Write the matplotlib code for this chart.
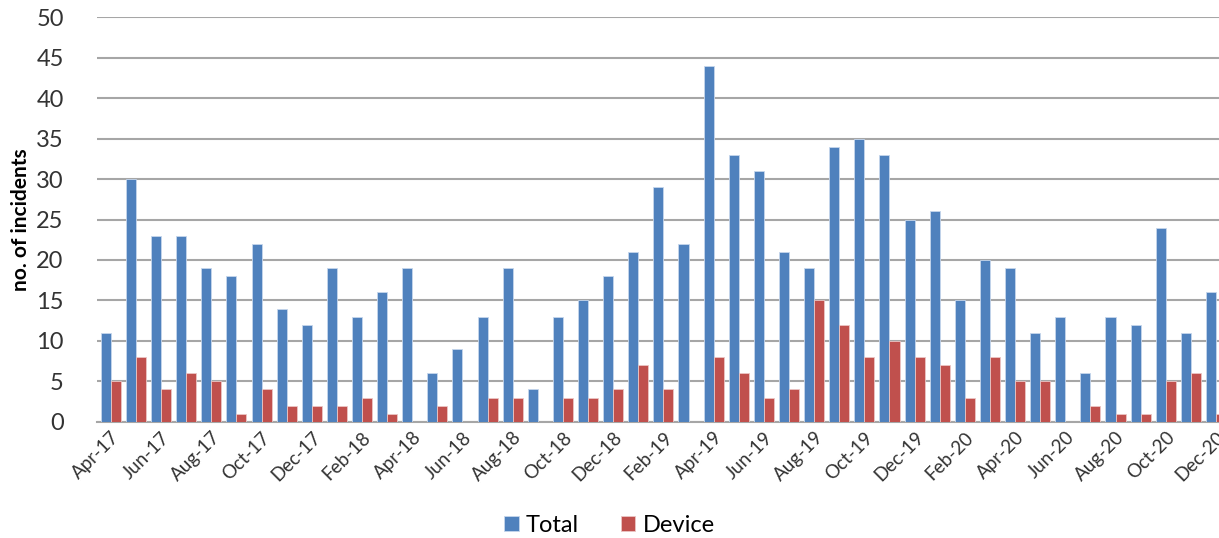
import matplotlib.pyplot as plt
import numpy as np

plt.rcParams['font.family'] = ['Lato', 'DejaVu Sans']

months = ['Apr-17', 'May-17', 'Jun-17', 'Jul-17', 'Aug-17', 'Sep-17', 'Oct-17', 'Nov-17', 'Dec-17',
          'Jan-18', 'Feb-18', 'Mar-18', 'Apr-18', 'May-18', 'Jun-18', 'Jul-18', 'Aug-18', 'Sep-18',
          'Oct-18', 'Nov-18', 'Dec-18', 'Jan-19', 'Feb-19', 'Mar-19', 'Apr-19', 'May-19', 'Jun-19',
          'Jul-19', 'Aug-19', 'Sep-19', 'Oct-19', 'Nov-19', 'Dec-19', 'Jan-20', 'Feb-20', 'Mar-20',
          'Apr-20', 'May-20', 'Jun-20', 'Jul-20', 'Aug-20', 'Sep-20', 'Oct-20', 'Nov-20', 'Dec-20']

total = [11, 30, 23, 23, 19, 18, 22, 14, 12,
         19, 13, 16, 19, 6, 9, 13, 19, 4,
         13, 15, 18, 21, 29, 22, 44, 33, 31,
         21, 19, 34, 35, 33, 25, 26, 15, 20,
         19, 11, 13, 6, 13, 12, 24, 11, 16]

device = [5, 8, 4, 6, 5, 1, 4, 2, 2,
          2, 3, 1, 0, 2, 0, 3, 3, 0,
          3, 3, 4, 7, 4, 0, 8, 6, 3,
          4, 15, 12, 8, 10, 8, 7, 3, 8,
          5, 5, 0, 2, 1, 1, 5, 6, 1]

x = np.arange(len(months))
w = 0.4

fig = plt.figure(figsize=(12.19, 5.38), dpi=100)
ax = fig.add_axes([0.0796, 0.216, 0.9204, 0.752])

ax.bar(x - w / 2, total, w, color='#4F81BD', edgecolor='#C6D6EC', linewidth=0.6,
       label='Total', zorder=3)
ax.bar(x + w / 2, device, w, color='#C0504D', edgecolor='#EBC6C5', linewidth=0.6,
       label='Device', zorder=3)

ax.set_ylim(0, 50)
ax.set_yticks(range(0, 51, 5))
ax.set_xlim(-0.55, 44.12)
ax.set_xticks(x[::2])
ax.set_xticklabels(months[::2], rotation=45, ha='right', rotation_mode='anchor',
                   fontsize=13.5, color='#333333')
ax.tick_params(axis='y', labelsize=17, colors='#333333', length=0, pad=24)
ax.tick_params(axis='x', length=0, pad=5)

ax.grid(axis='y', color='#A6A6A6', linewidth=1.5, zorder=0)
for s in ['top', 'right', 'left']:
    ax.spines[s].set_visible(False)
ax.spines['bottom'].set_color('#A6A6A6')
ax.spines['bottom'].set_linewidth(1.5)

ax.set_ylabel('no. of incidents', fontsize=15, fontweight='bold', labelpad=4)

fig.legend(loc='lower center', ncol=2, frameon=False, fontsize=17,
           bbox_to_anchor=(0.5, -0.035), handlelength=0.6, handleheight=0.6,
           columnspacing=1.8, handletextpad=0.3)

fig.savefig('out.png', dpi=100)
